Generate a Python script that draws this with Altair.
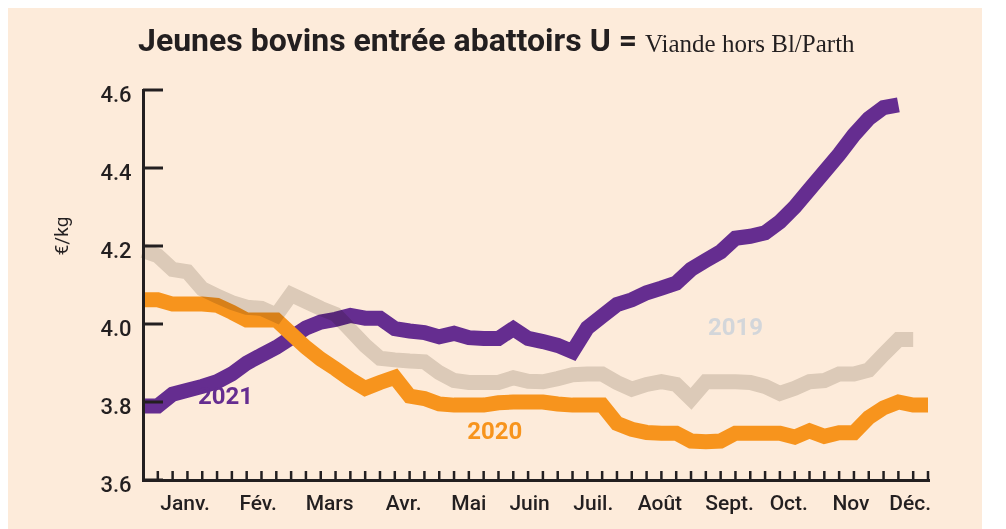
import altair as alt
import pandas as pd

# ---------------- data ----------------
values_2021 = [3.79, 3.79, 3.82, 3.83, 3.84, 3.852, 3.872, 3.90, 3.92, 3.94,
               3.965, 3.99, 4.005, 4.012, 4.022, 4.015, 4.015, 3.988, 3.982, 3.978,
               3.967, 3.976, 3.965, 3.963, 3.963, 3.988, 3.963, 3.955, 3.945, 3.929,
               3.99, 4.02, 4.05, 4.062, 4.08, 4.092, 4.105, 4.14, 4.163, 4.185,
               4.22, 4.225, 4.234, 4.262, 4.30, 4.345, 4.39, 4.435, 4.485, 4.527,
               4.555, 4.562]
values_2020 = [4.062, 4.062, 4.051, 4.051, 4.051, 4.048, 4.03, 4.01, 4.01, 4.01,
               3.975, 3.94, 3.91, 3.885, 3.858, 3.835, 3.85, 3.863, 3.815, 3.809,
               3.795, 3.792, 3.792, 3.792, 3.798, 3.80, 3.80, 3.80, 3.795, 3.792,
               3.792, 3.792, 3.745, 3.73, 3.722, 3.72, 3.72, 3.70, 3.698, 3.70,
               3.72, 3.72, 3.72, 3.72, 3.71, 3.726, 3.712, 3.721, 3.721, 3.76,
               3.785, 3.80, 3.792, 3.792]
values_2019 = [4.188, 4.175, 4.14, 4.134, 4.09, 4.072, 4.055, 4.043, 4.04, 4.023,
               4.076, 4.058, 4.04, 4.025, 3.985, 3.945, 3.912, 3.908, 3.905, 3.903,
               3.875, 3.855, 3.85, 3.85, 3.85, 3.862, 3.853, 3.852, 3.86, 3.87,
               3.872, 3.872, 3.85, 3.833, 3.845, 3.852, 3.845, 3.808, 3.852, 3.852,
               3.852, 3.85, 3.84, 3.822, 3.835, 3.852, 3.855, 3.872, 3.872, 3.882,
               3.922, 3.96, 3.96]

months = ["Janv.", "Fév.", "Mars", "Avr.", "Mai", "Juin",
          "Juil.", "Août", "Sept.", "Oct.", "Nov", "Déc."]
month_pos = [2.84, 7.77, 12.6, 17.6, 22.0, 26.1, 30.4, 34.9, 39.6, 43.6, 47.8, 51.8]

y_ticks = [3.6, 3.8, 4.0, 4.2, 4.4, 4.6]
x_ticks = list(range(1, 54))

series_names = ["2021", "2020", "2019"]
label_week = [5.57, 23.75, 40.0]
label_value = [3.812, 3.722, 3.991]

title_main = "Jeunes bovins entrée abattoirs U ="
title_sub = "Viande hors Bl/Parth"
y_title = "€/kg"

# ---------------- styles ----------------
BG = "#FDEBDA"
DARK = "#231F20"
PURPLE = "#652D90"
ORANGE = "#F7941D"
GRAY19 = "#DEDCD7"
LABEL19 = "#D3D6DA"

rows = []
for name, vals in [("2021", values_2021), ("2020", values_2020), ("2019", values_2019)]:
    for i, v in enumerate(vals):
        rows.append({"year": name, "week": i, "value": v})
df = pd.DataFrame(rows)

xscale = alt.Scale(domain=[0, 53], nice=False, zero=False)
yscale = alt.Scale(domain=[3.6, 4.6], nice=False, zero=False)

x_axis = alt.Axis(labels=False, ticks=False, grid=False, title=None,
                  domainColor=DARK, domainWidth=3, domainCap="square", zindex=1)
y_axis = alt.Axis(values=y_ticks, format=".1f", ticks=False, grid=False, title=None,
                  domainColor=DARK, domainWidth=3, domainCap="square", zindex=1,
                  labelFont="Roboto", labelFontSize=22, labelFontWeight=500,
                  labelColor=DARK, labelPadding=12, labelBaseline="middle",
                  labelOffset=4)

def xenc(field):
    return alt.X(f"{field}:Q", scale=xscale, axis=x_axis)

def yenc(field):
    return alt.Y(f"{field}:Q", scale=yscale, axis=y_axis)

base = alt.Chart(df)
line_kw = dict(strokeWidth=15, strokeCap="butt", strokeJoin="miter", strokeMiterLimit=4)

l2021 = base.transform_filter(alt.datum.year == "2021").mark_line(color=PURPLE, **line_kw).encode(
    x=xenc("week"), y=yenc("value"), order="week:Q")
l2020 = base.transform_filter(alt.datum.year == "2020").mark_line(color=ORANGE, **line_kw).encode(
    x=xenc("week"), y=yenc("value"), order="week:Q")
l2019 = base.transform_filter(alt.datum.year == "2019").mark_line(color=GRAY19, blend="multiply", **line_kw).encode(
    x=xenc("week"), y=yenc("value"), order="week:Q")

ytick_df = pd.DataFrame({"v": y_ticks})
yticks = alt.Chart(ytick_df).mark_rule(color=DARK, strokeWidth=3).encode(
    y=yenc("v"), x=alt.value(0), x2=alt.value(20))

xtick_df = pd.DataFrame({"wk": x_ticks})
xticks = alt.Chart(xtick_df).mark_rule(color=DARK, strokeWidth=2.5).encode(
    x=xenc("wk"), y=alt.value(390), y2=alt.value(381))

lab_df = pd.DataFrame({"name": series_names, "week": label_week, "value": label_value})
labels = alt.Chart(lab_df).mark_text(font="Roboto", fontSize=24, fontWeight="bold",
                                     align="center", baseline="middle").encode(
    x=xenc("week"), y=yenc("value"), text="name:N",
    color=alt.Color("name:N", scale=alt.Scale(domain=series_names,
                                              range=[PURPLE, ORANGE, LABEL19]), legend=None))

mon_df = pd.DataFrame({"m": months, "p": month_pos})
mlabels = alt.Chart(mon_df).mark_text(font="Roboto", fontSize=21, fontWeight=500,
                                      color=DARK, align="center", baseline="alphabetic").encode(
    x=xenc("p"), y=alt.value(420), text="m:N")

t1 = alt.Chart(pd.DataFrame({"t": [title_main]})).mark_text(
    font="Roboto", fontSize=32, fontWeight="bold", color=DARK,
    align="left", baseline="alphabetic").encode(x=alt.value(-5), y=alt.value(-39), text="t:N")
t2 = alt.Chart(pd.DataFrame({"t": [title_sub]})).mark_text(
    font="Liberation Serif", fontSize=25, color=DARK,
    align="left", baseline="alphabetic").encode(x=alt.value(502), y=alt.value(-38.5), text="t:N")
t3 = alt.Chart(pd.DataFrame({"t": [y_title]})).mark_text(
    font="Roboto", fontSize=19, color=DARK, angle=270,
    align="center", baseline="middle").encode(x=alt.value(-81), y=alt.value(146), text="t:N")

chart = alt.layer(l2021, l2020, l2019, yticks, xticks, labels, mlabels, t1, t2, t3).properties(
    width=785, height=390,
    autosize=alt.AutoSizeParams(type="none"),
    padding={"left": 135, "top": 82, "right": 54, "bottom": 50},
    background=BG,
).configure_view(stroke=None)

chart.save("out.html", embed_options={"renderer": "svg", "actions": False})
